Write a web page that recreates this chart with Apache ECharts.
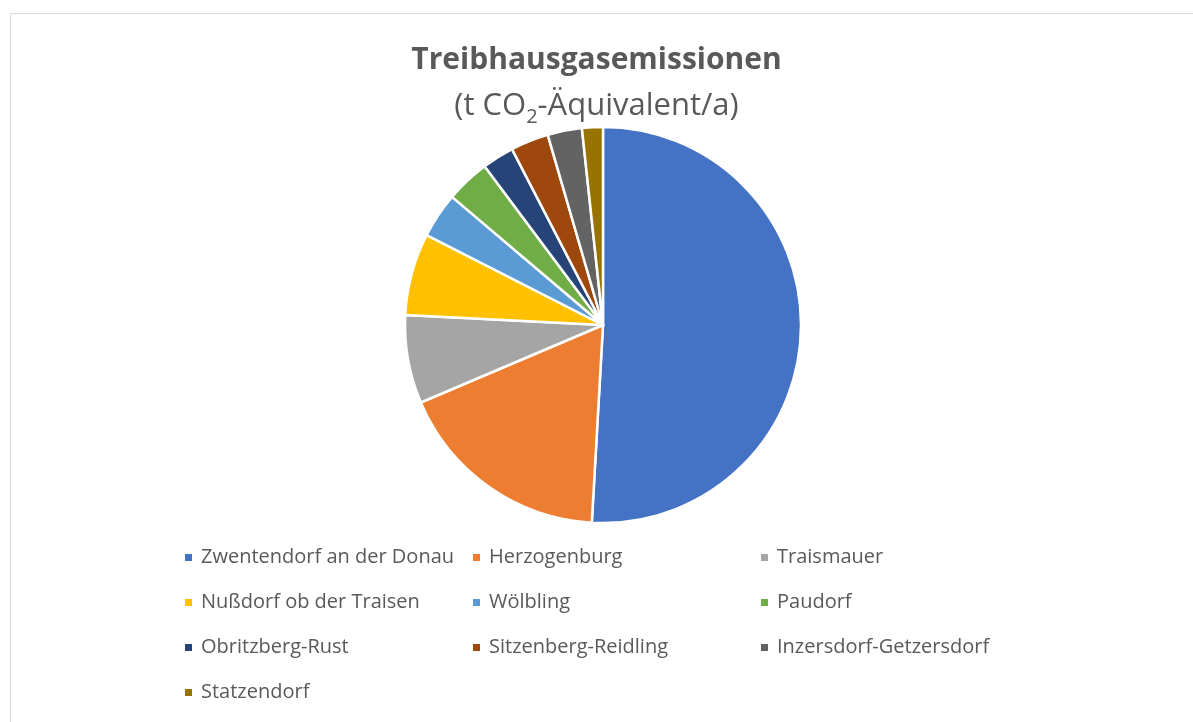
<!DOCTYPE html>
<html>
<head>
<meta charset="utf-8">
<script src="https://cdn.jsdelivr.net/npm/echarts@6/dist/echarts.min.js"></script>
<style>
  html, body { margin: 0; padding: 0; background: #fff; }
  #piechart { width: 1193px; height: 722px; }
</style>
</head>
<body>
<div id="piechart"></div>
<script>
// Gemeinden und Anteile (in %)
var gemeinden = ['Zwentendorf an der Donau', 'Herzogenburg', 'Traismauer',
  'Nußdorf ob der Traisen', 'Wölbling', 'Paudorf',
  'Obritzberg-Rust', 'Sitzenberg-Reidling', 'Inzersdorf-Getzersdorf',
  'Statzendorf'];
var anteile = [50.9, 17.7, 7.2, 6.7, 3.7, 3.6, 2.6, 3.1, 2.8, 1.7];
var farben = ['#4472C4', '#ED7D31', '#A5A5A5', '#FFC000', '#5B9BD5',
  '#70AD47', '#264478', '#9E480E', '#636363', '#997300'];

var myChart = echarts.init(document.getElementById('piechart'));
initPie();

function initPie() {
    var daten = gemeinden.map(function (name, i) {
        return { name: name, value: anteile[i] };
    });

    var option = {
        color: farben,
        textStyle: { fontFamily: 'Open Sans' },
        // Rahmen wie im Excel-Diagramm
        graphic: [{
            type: 'polyline',
            shape: { points: [[10.5, 722], [10.5, 13.5], [1193, 13.5]] },
            style: { stroke: '#d9d9d9', lineWidth: 1, fill: null },
            silent: true
        }],
        title: {
            left: 'center',
            top: 32,
            text: '{b|Treibhausgasemissionen}\n{n|(t CO}{s|2}{n|-Äquivalent/a)}',
            textStyle: {
                rich: {
                    b: { fontSize: 30, fontWeight: 'bold', color: '#595959', lineHeight: 46, fontFamily: 'Open Sans' },
                    n: { fontSize: 31, fontWeight: 'normal', color: '#595959', lineHeight: 46, fontFamily: 'Open Sans' },
                    s: { fontSize: 20, fontWeight: 'normal', color: '#595959', lineHeight: 46, padding: [22, 0, 0, 0], fontFamily: 'Open Sans' }
                }
            }
        },
        legend: {
            left: 183,
            top: 535,
            width: 900,
            padding: 0,
            itemGap: 0,
            itemWidth: 9,
            itemHeight: 9,
            icon: 'rect',
            textStyle: {
                fontSize: 20,
                color: '#595959',
                width: 270,
                lineHeight: 45,
                padding: [0, 0, 0, 3]
            }
        },
        series: [{
            type: 'pie',
            center: [603, 325],
            radius: 198,
            startAngle: 90,
            clockwise: true,
            label: { show: false },
            labelLine: { show: false },
            itemStyle: { borderColor: '#fff', borderWidth: 2.5 },
            emphasis: { scale: false },
            data: daten
        }]
    };
    myChart.setOption(option);
}
</script>
</body>
</html>
